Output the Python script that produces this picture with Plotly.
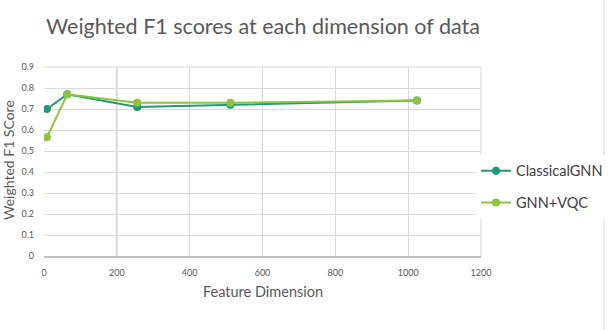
import plotly.graph_objects as go

dims = [8, 64, 256, 512, 1024]
classical_gnn = [0.70, 0.77, 0.71, 0.72, 0.74]
gnn_vqc = [0.565, 0.77, 0.73, 0.73, 0.74]

x_ticks = [0, 200, 400, 600, 800, 1000, 1200]
y_ticks = [0, 0.1, 0.2, 0.3, 0.4, 0.5, 0.6, 0.7, 0.8, 0.9]

font = "Lato, 'Open Sans', sans-serif"
grey = "#595959"

W, H = 608, 330
L, R, T, B = 44, 481, 67, 256   # plot area in pixels
PW, PH = R - L, B - T

fig = go.Figure()
fig.add_trace(go.Scatter(
    x=dims, y=classical_gnn, name="ClassicalGNN", legendgroup="a",
    mode="lines+markers",
    line=dict(color="#1d9a72", width=2),
    marker=dict(size=8, color="#1d9a72"),
))
fig.add_trace(go.Scatter(
    x=dims, y=gnn_vqc, name="GNN+VQC", legendgroup="b",
    mode="lines+markers",
    line=dict(color="#8cc43e", width=2),
    marker=dict(size=8, color="#8cc43e"),
))

fig.update_layout(
    width=W, height=H,
    margin=dict(l=L, r=W - R, t=T, b=H - B, autoexpand=False),
    paper_bgcolor="white", plot_bgcolor="white",
    font=dict(family=font, color=grey),
    title=dict(
        text="Weighted F1 scores at each dimension of data",
        x=46 / W, xanchor="left", y=1 - 26 / H, yanchor="middle",
        font=dict(size=21.5, color=grey),
    ),
    legend=dict(
        x=(476 - L) / PW, y=0.366, xanchor="left", yanchor="middle",
        font=dict(size=14.5, color="#404040"),
        tracegroupgap=10, itemwidth=30,
    ),
    showlegend=True,
)
fig.update_xaxes(
    range=[0, 1200], tickvals=x_ticks, automargin=False,
    showgrid=True, gridcolor="#d9d9d9", gridwidth=1,
    showline=True, linecolor="#bfbfbf", linewidth=1.5,
    zeroline=False,
    tickfont=dict(size=9, color=grey),
    ticklabelstandoff=7,
)
fig.update_yaxes(
    range=[0, 0.9], tickvals=y_ticks, automargin=False,
    showgrid=True, gridcolor="#d9d9d9", gridwidth=1,
    zeroline=False, showline=False,
    tickfont=dict(size=9, color=grey),
    ticklabelstandoff=9,
)
fig.add_annotation(
    text="Feature Dimension", xref="paper", yref="paper",
    x=0.5, y=-35 / PH, xanchor="center", yanchor="middle",
    showarrow=False, font=dict(size=14.5, color=grey),
)
fig.add_annotation(
    text="Weighted F1 SCore", xref="paper", yref="paper",
    x=-36 / PW, y=96 / PH, xanchor="center", yanchor="middle",
    textangle=-90, showarrow=False, font=dict(size=14, color=grey),
)
# the 200 gridline is drawn heavier in the original
fig.add_shape(type="line", xref="x", yref="paper", layer="below",
              x0=200, x1=200, y0=0, y1=1,
              line=dict(color="#dcdcdc", width=2))
fig.add_shape(type="line", xref="paper", yref="paper",
              x0=1, x1=1, y0=0, y1=1, line=dict(color="#d9d9d9", width=1))
fig.add_shape(type="line", xref="paper", yref="paper",
              x0=0, x1=1, y0=1, y1=1, line=dict(color="#d9d9d9", width=1))
# chart frame edge on the right
fig.add_shape(type="line", xref="paper", yref="paper",
              x0=(604 - L) / PW, x1=(604 - L) / PW,
              y0=(B - H) / PH, y1=B / PH,
              line=dict(color="#d9d9d9", width=1))

# drop the browser's default 8px body margin so the figure sits at 0,0
fig.write_html("out.html", config={"displayModeBar": False},
               post_script="document.body.style.margin = '0';")
